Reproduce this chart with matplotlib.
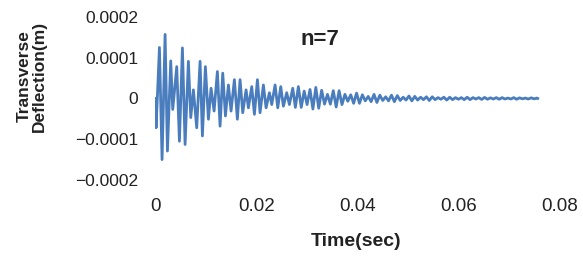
import matplotlib
matplotlib.use("Agg")
import matplotlib.pyplot as plt

plt.rcParams["font.family"] = ["Liberation Sans", "DejaVu Sans"]

# extremes: time in ms, deflection in 1e-4 m
t_early = [0.0, 0.2, 0.86, 1.38, 1.98, 2.44, 3.09, 3.49, 4.28, 4.81,
           5.40, 5.93, 6.58, 7.05, 7.57, 8.23, 8.89, 9.35, 9.94, 10.54,
           11.06, 11.66, 12.31, 12.84, 13.37, 13.90, 14.49, 15.01, 15.67, 16.26,
           16.79, 17.32, 17.98, 18.44, 19.10, 19.63, 20.22, 20.74, 21.40, 21.93,
           22.59, 23.05, 23.71, 24.24, 24.83, 25.35, 26.01, 26.54, 27.20, 27.72,
           28.31]
d_early = [0.0, -0.72, 1.25, -1.50, 1.57, -1.29, 0.92, -0.27, 0.78, -1.05,
           1.24, -1.13, 0.91, -0.47, 0.21, -0.72, 0.91, -0.92, 0.78, -0.51,
           0.25, -0.31, 0.66, -0.68, 0.62, -0.43, 0.33, -0.31, 0.46, -0.51,
           0.46, -0.35, 0.21, -0.23, 0.29, -0.39, 0.46, -0.35, 0.33, -0.23,
           0.14, -0.15, 0.33, -0.23, 0.29, -0.19, 0.14, -0.15, 0.25, -0.22,
           0.29]

t_late = [28.88, 29.46, 30.03, 30.61, 31.18, 31.76, 32.33, 32.91, 33.48, 34.06,
          34.63, 35.21, 35.78, 36.36, 36.93, 37.51, 38.08, 38.66, 39.23, 39.81,
          40.38, 40.96, 41.53, 42.11, 42.68, 43.26, 43.83, 44.41, 44.98, 45.56,
          46.13, 46.71, 47.28, 47.86, 48.43, 49.01, 49.58, 50.16, 50.73, 51.31,
          51.88, 52.46, 53.03, 53.61, 54.18, 54.76, 55.33, 55.91, 56.48, 57.06,
          57.63, 58.21, 58.78, 59.36, 59.93, 60.51, 61.08, 61.66, 62.23, 62.81,
          63.38, 63.96, 64.53, 65.11, 65.68, 66.26, 66.83, 67.41, 67.98, 68.56,
          69.13, 69.71, 70.28, 70.86, 71.43, 72.01, 72.58, 73.16, 73.73, 74.31,
          74.88, 75.46, 75.6]
d_late = [-0.22, 0.18, -0.15, 0.22, -0.26, 0.27, -0.24, 0.2, -0.14, 0.1,
          -0.14, 0.19, -0.21, 0.19, -0.15, 0.1, -0.07, 0.09, -0.12, 0.13,
          -0.12, 0.09, -0.06, 0.05, -0.08, 0.1, -0.1, 0.08, -0.05, 0.04,
          -0.06, 0.08, -0.08, 0.07, -0.05, 0.03, -0.04, 0.06, -0.06, 0.05,
          -0.04, 0.03, -0.03, 0.04, -0.05, 0.04, -0.03, 0.02, -0.02, 0.03,
          -0.04, 0.03, -0.03, 0.02, -0.02, 0.02, -0.03, 0.03, -0.03, 0.02,
          -0.015, 0.02, -0.025, 0.025, -0.02, 0.015, -0.015, 0.02, -0.02, 0.02,
          -0.015, 0.01, -0.015, 0.02, -0.02, 0.015, -0.01, 0.01, -0.015, 0.015,
          -0.01, 0.01, 0.0]

y_ticks = [-0.0002, -0.0001, 0, 0.0001, 0.0002]
y_tick_labels = ["\u22120.0002", "\u22120.0001", "0", "0.0001", "0.0002"]
x_ticks = [0, 0.02, 0.04, 0.06, 0.08]
x_tick_labels = ["0", "0.02", "0.04", "0.06", "0.08"]

t = [v / 1000 for v in t_early + t_late]
d = [v * 1e-4 for v in d_early + d_late]
assert len(t) == len(d)

fig = plt.figure(figsize=(5.83, 2.56), dpi=100)
ax = fig.add_axes([0.266, 0.297, 0.6945, 0.637])

ax.plot(t, d, color="#4a7dbd", linewidth=2.0)

ax.set_xlim(0, 0.08)
ax.set_ylim(-0.0002, 0.0002)
ax.set_xticks(x_ticks, x_tick_labels)
ax.set_yticks(y_ticks, y_tick_labels)
ax.tick_params(length=0, labelsize=12.5, colors="#222222")
ax.tick_params(axis="y", pad=12)
ax.tick_params(axis="x", pad=13, labelsize=13.5)
for s in ax.spines.values():
    s.set_visible(False)

fig.text(356 / 583, 1 - 241 / 256, "Time(sec)", fontsize=14, fontweight="bold",
         color="#222222", ha="center", va="center")
fig.text(32 / 583, 1 - 76 / 256, "Transverse\nDeflection(m)", fontsize=12.5,
         fontweight="bold", color="#222222", ha="center", va="center",
         rotation=90, linespacing=1.05)
ax.text(0.407, 0.859, "n=7", transform=ax.transAxes, fontsize=16,
        fontweight="bold", color="#222222", ha="center", va="center")

fig.savefig("out.png", dpi=100)
